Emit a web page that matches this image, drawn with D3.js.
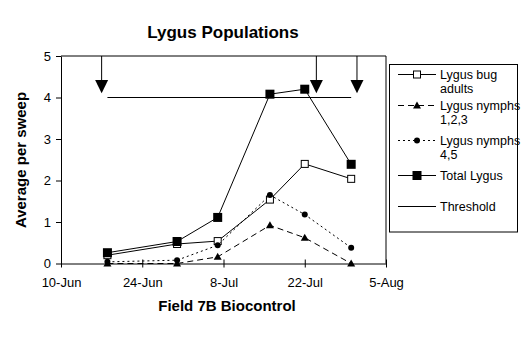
<!DOCTYPE html>
<html>
<head>
<meta charset="utf-8">
<script src="https://cdn.jsdelivr.net/npm/d3@7"></script>
<style>
  body { margin: 0; background: #fff; }
  svg { display: block; font-family: "Liberation Sans", Arial, sans-serif; }
</style>
</head>
<body>
<svg id="chart" width="527" height="359"></svg>
<script>
// sample dates and values
const sampleDates = ["1999-06-18", "1999-06-30", "1999-07-07", "1999-07-16", "1999-07-22", "1999-07-30"];
const adults = [0.20, 0.47, 0.54, 1.54, 2.40, 2.04];
const nymphs123 = [0.00, 0.00, 0.16, 0.92, 0.62, 0.00];
const nymphs45 = [0.04, 0.08, 0.44, 1.65, 1.18, 0.38];
const totalLygus = [0.26, 0.53, 1.11, 4.08, 4.20, 2.39];
const thresholdValue = 4;
const thresholdDates = ["1999-06-18", "1999-07-30"];
const sprayDates = ["1999-06-17", "1999-07-24", "1999-07-31"];
const tickDates = ["1999-06-10", "1999-06-24", "1999-07-08", "1999-07-22", "1999-08-05"];
const yTicks = [0, 1, 2, 3, 4, 5];

const parse = d3.timeParse("%Y-%m-%d");
const fmt = d3.timeFormat("%-d-%b");

const svg = d3.select("#chart");
const plot = { left: 61, right: 386, top: 56, bottom: 263.5 };

const x = d3.scaleTime()
    .domain([parse(tickDates[0]), parse(tickDates[tickDates.length - 1])])
    .range([plot.left, plot.right]);
const y = d3.scaleLinear().domain([0, 5]).range([plot.bottom, plot.top]);

// plot area frame (top + right)
svg.append("path")
    .attr("d", `M${plot.left},${plot.top}H${plot.right}V${plot.bottom}`)
    .attr("fill", "none")
    .attr("stroke", "#000")
    .attr("stroke-width", 1);

// axes
const xAxis = svg.append("g")
    .attr("transform", `translate(0,${plot.bottom})`)
    .call(d3.axisBottom(x).tickValues(tickDates.map(parse)).tickFormat(fmt)
        .tickSize(4).tickSizeOuter(0).tickPadding(10));
xAxis.selectAll(".tick line").attr("y1", -4);
xAxis.selectAll("text").style("font-size", "13px").attr("fill", "#000");

const yAxis = svg.append("g")
    .attr("transform", `translate(${plot.left},0)`)
    .call(d3.axisLeft(y).tickValues(yTicks).tickFormat(d3.format("d"))
        .tickSize(5).tickSizeOuter(0).tickPadding(5));
yAxis.selectAll("text").style("font-size", "13px").attr("fill", "#000");
svg.selectAll(".domain").attr("stroke", "#000");

// threshold
svg.append("line")
    .attr("x1", x(parse(thresholdDates[0])))
    .attr("x2", x(parse(thresholdDates[1])))
    .attr("y1", y(thresholdValue))
    .attr("y2", y(thresholdValue))
    .attr("stroke", "#000");

// spray arrows
const arrows = svg.append("g");
sprayDates.forEach(function(d) {
    let ax = x(parse(d));
    arrows.append("line")
        .attr("x1", ax).attr("x2", ax)
        .attr("y1", y(5)).attr("y2", y(4.4))
        .attr("stroke", "#000");
    arrows.append("path")
        .attr("d", `M${ax - 6.5},${y(4.42)}L${ax + 6.5},${y(4.42)}L${ax},${y(4.1)}Z`)
        .attr("fill", "#000");
});

const dates = sampleDates.map(parse);
const series = [
    { name: ["Lygus bug", "adults"], values: adults, dash: null, marker: "openSquare" },
    { name: ["Lygus nymphs", "1,2,3"], values: nymphs123, dash: "6,4", marker: "triangle" },
    { name: ["Lygus nymphs", "4,5"], values: nymphs45, dash: "2,3", marker: "circle" },
    { name: ["Total Lygus"], values: totalLygus, dash: null, marker: "bigSquare" }
];

function drawMarker(g, type, cx, cy) {
    if (type == "openSquare") {
        g.append("rect").attr("x", cx - 3.5).attr("y", cy - 3.5).attr("width", 7).attr("height", 7)
            .attr("fill", "#fff").attr("stroke", "#000");
    } else if (type == "bigSquare") {
        g.append("rect").attr("x", cx - 4.5).attr("y", cy - 4.5).attr("width", 9).attr("height", 9)
            .attr("fill", "#000");
    } else if (type == "triangle") {
        g.append("path").attr("d", `M${cx - 4},${cy + 3}L${cx + 4},${cy + 3}L${cx},${cy - 4}Z`)
            .attr("fill", "#000");
    } else {
        g.append("circle").attr("cx", cx).attr("cy", cy).attr("r", 3).attr("fill", "#000");
    }
}

const line = d3.line().x((d, i) => x(dates[i])).y(d => y(d));

series.forEach(function(s) {
    let g = svg.append("g");
    g.append("path")
        .attr("d", line(s.values))
        .attr("fill", "none")
        .attr("stroke", "#000")
        .attr("stroke-width", 1)
        .attr("stroke-dasharray", s.dash);
    s.values.forEach(function(v, i) {
        drawMarker(g, s.marker, x(dates[i]), y(v));
    });
});

// legend
const legend = svg.append("g");
legend.append("rect")
    .attr("x", 389.5).attr("y", 64.5).attr("width", 128).attr("height", 167.5)
    .attr("fill", "#fff").attr("stroke", "#000");
const legendRows = [74.5, 105.5, 140.5, 175.5];
series.forEach(function(s, i) {
    let ly = legendRows[i];
    legend.append("line")
        .attr("x1", 398).attr("x2", 436).attr("y1", ly).attr("y2", ly)
        .attr("stroke", "#000").attr("stroke-dasharray", s.dash);
    drawMarker(legend, s.marker, 417, ly);
    let t = legend.append("text").attr("x", 440).attr("y", ly + 4.5)
        .style("font-size", "12.5px").attr("fill", "#000");
    s.name.forEach(function(n, j) {
        t.append("tspan").attr("x", 440).attr("dy", j == 0 ? 0 : 14).text(n);
    });
});
legend.append("line")
    .attr("x1", 398).attr("x2", 436).attr("y1", 206.5).attr("y2", 206.5)
    .attr("stroke", "#000");
legend.append("text").attr("x", 440).attr("y", 211)
    .style("font-size", "12.5px").text("Threshold");

// titles
svg.append("text")
    .attr("x", 223).attr("y", 38)
    .attr("text-anchor", "middle")
    .style("font-size", "17px").style("font-weight", "bold")
    .text("Lygus Populations");

svg.append("text")
    .attr("x", 227).attr("y", 311)
    .attr("text-anchor", "middle")
    .style("font-size", "15px").style("font-weight", "bold")
    .text("Field 7B Biocontrol");

svg.append("text")
    .attr("transform", "translate(26,160) rotate(-90)")
    .attr("text-anchor", "middle")
    .style("font-size", "15px").style("font-weight", "bold")
    .text("Average per sweep");
</script>
</body>
</html>
